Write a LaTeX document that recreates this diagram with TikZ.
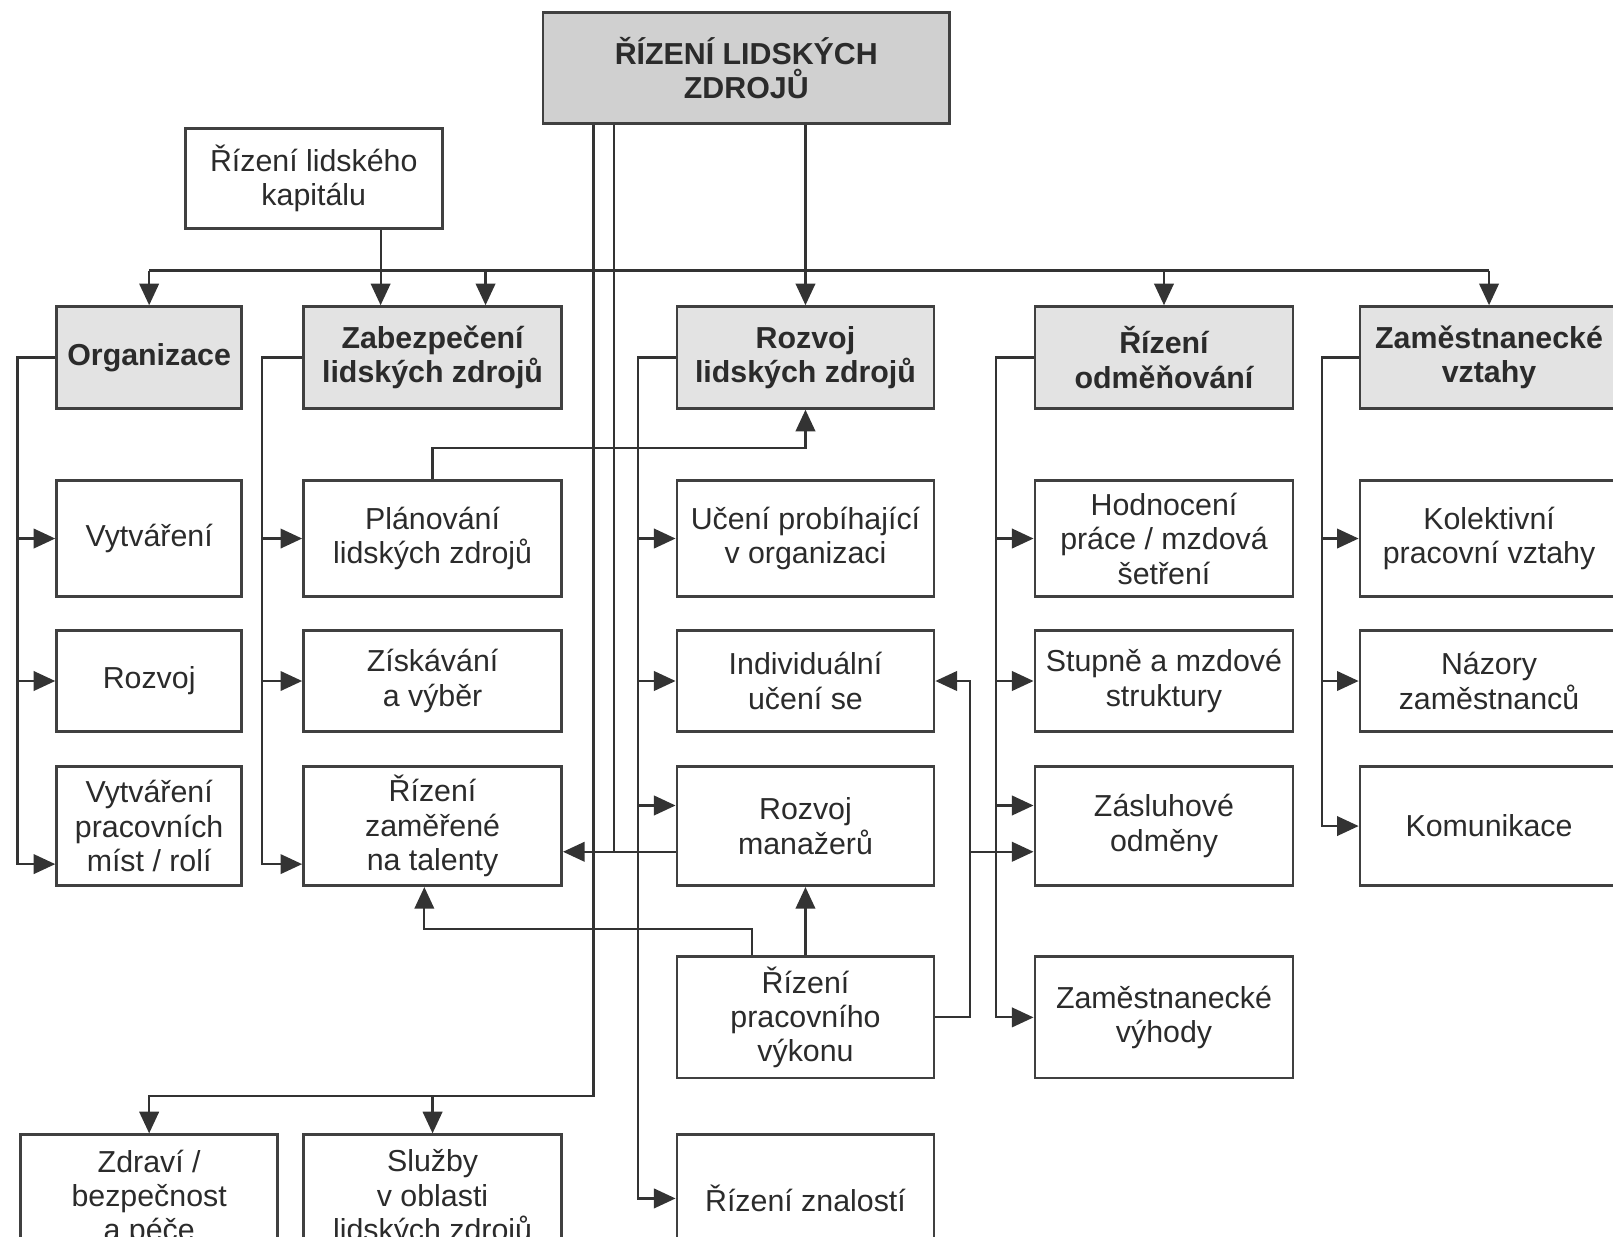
\documentclass[tikz,border=0pt]{standalone}
\usepackage{fontspec}
\setmainfont{Liberation Sans}
\usetikzlibrary{arrows.meta}
\definecolor{ln}{HTML}{333333}
\definecolor{bd}{HTML}{404040}
\definecolor{tx}{HTML}{2B2B2B}
\definecolor{hdr}{HTML}{E3E3E3}
\definecolor{topf}{HTML}{D0D0D0}
\begin{document}
\begin{tikzpicture}[x=1pt,y=-1pt,
  bx/.style={draw=bd,line width=2.6pt,fill=white,inner sep=0pt,align=center,text=tx,font=\fontsize{29.5}{33.5}\selectfont},
  hd/.style={bx,fill=hdr,font=\bfseries\fontsize{29.5}{33.5}\selectfont},
  cA/.style={minimum width=180pt},
  cB/.style={minimum width=251pt},
  cC/.style={minimum width=250pt},
  r1/.style={minimum height=99pt},
  r2/.style={minimum height=113pt},
  r3/.style={minimum height=98pt},
  r4/.style={minimum height=116pt},
  r5/.style={minimum height=118pt},
  r6/.style={minimum height=124pt},
  con/.style={draw=ln,line width=2.1pt},
  arr/.style={con,-{Triangle[length=21pt,width=19pt]}}]
\useasboundingbox (0,0) rectangle (1568,1202);
% top
\node[hd,minimum width=395pt,minimum height=108pt,fill=topf] (top) at (725.5,66) {ŘÍZENÍ LIDSKÝCH\\ZDROJŮ};
\node[bx,minimum width=250pt,minimum height=97pt] (kap) at (305,173.5) {Řízení lidského\\kapitálu};
% row 1
\node[hd,cA,r1] (org) at (145,347.5) {Organizace};
\node[hd,cB,r1] (zab) at (420.5,347.5) {Zabezpečení\\lidských zdrojů};
\node[hd,cC,r1] (roz) at (783,347.5) {Rozvoj\\lidských zdrojů};
\node[hd,cB,r1] (odm) at (1131.5,347.5) {Řízení\\odměňování};
\node[hd,cB,r1] (vzt) at (1447.5,347.5) {Zaměstnanecké\\vztahy};
% row 2
\node[bx,cA,r2] (vyt) at (145,523.5) {Vytváření};
\node[bx,cB,r2] (pla) at (420.5,523.5) {Plánování\\lidských zdrojů};
\node[bx,cC,r2] (uce) at (783,523.5) {Učení probíhající\\v organizaci};
\node[bx,cB,r2] (hod) at (1131.5,523.5) {Hodnocení\\práce / mzdová\\šetření};
\node[bx,cB,r2] (kol) at (1447.5,523.5) {Kolektivní\\pracovní vztahy};
% row 3
\node[bx,cA,r3] (rzv) at (145,662) {Rozvoj};
\node[bx,cB,r3] (zis) at (420.5,662) {Získávání\\a výběr};
\node[bx,cC,r3] (ind) at (783,662) {Individuální\\učení se};
\node[bx,cB,r3] (stu) at (1131.5,662) {Stupně a mzdové\\struktury};
\node[bx,cB,r3] (naz) at (1447.5,662) {Názory\\zaměstnanců};
% row 4
\node[bx,cA,r4] (mis) at (145,803) {Vytváření\\pracovních\\míst / rolí};
\node[bx,cB,r4] (tal) at (420.5,803) {Řízení\\zaměřené\\na talenty};
\node[bx,cC,r4] (man) at (783,803) {Rozvoj\\manažerů};
\node[bx,cB,r4] (zas) at (1131.5,803) {Zásluhové\\odměny};
\node[bx,cB,r4] (kom) at (1447.5,803) {Komunikace};
% row 5
\node[bx,cC,r5] (vyk) at (783,989) {Řízení\\pracovního\\výkonu};
\node[bx,cB,r5] (vyh) at (1131.5,989) {Zaměstnanecké\\výhody};
% row 6
\node[bx,cC,r6] (zdr) at (145,1165) {Zdraví /\\bezpečnost\\a péče};
\node[bx,cB,r6] (slu) at (420.5,1165) {Služby\\v oblasti\\lidských zdrojů};
\node[bx,cC,r6] (zna) at (783,1165) {Řízení znalostí};
% bus
\coordinate (bus) at (0,263);
\coordinate (zabR) at ([xshift=51.5pt]zab.north);
\coordinate (zabL) at ([xshift=-50.5pt]zab.north);
\draw[con] (org.north |- bus) -- (vzt.north |- bus);
\draw[arr] (org.north |- bus) -- (org.north);
\draw[arr] (zabR |- bus) -- (zabR);
\draw[arr] (zabL |- kap.south) -- (zabL);
\draw[arr] (top.south -| roz.north) -- (roz.north);
\draw[arr] (odm.north |- bus) -- (odm.north);
\draw[arr] (vzt.north |- bus) -- (vzt.north);
% lines from top box
\coordinate (ta) at (577,1065);
\coordinate (tb) at (597,0);
\coordinate (manB) at ([yshift=-25pt]man.west);
\coordinate (talB) at ([yshift=-25pt]tal.east);
\draw[arr] (top.south -| ta) -- (ta) -| (zdr.north);
\draw[arr] (slu.north |- ta) -- (slu.north);
\draw[con] (top.south -| tb) -- (tb |- talB);
\draw[arr] (manB) -- (talB);
% branches
\coordinate (b1) at (17,0);
\coordinate (b2) at (255,0);
\coordinate (b3) at (620,0);
\coordinate (b4) at (968,0);
\coordinate (b5) at (1285,0);
\coordinate (mis1) at ([yshift=-37pt]mis.west);
\coordinate (tal1) at ([yshift=-37pt]tal.west);
\coordinate (manA) at ([yshift=20pt]man.west);
\coordinate (zasA) at ([yshift=20pt]zas.west);
\draw[arr] (org.west) -| (b1 |- mis1) -- (mis1);
\draw[arr] (b1 |- vyt.west) -- (vyt.west);
\draw[arr] (b1 |- rzv.west) -- (rzv.west);
\draw[arr] (zab.west) -| (b2 |- tal1) -- (tal1);
\draw[arr] (b2 |- pla.west) -- (pla.west);
\draw[arr] (b2 |- zis.west) -- (zis.west);
\draw[arr] (roz.west) -| (b3 |- zna.west) -- (zna.west);
\draw[arr] (b3 |- uce.west) -- (uce.west);
\draw[arr] (b3 |- ind.west) -- (ind.west);
\draw[arr] (b3 |- manA) -- (manA);
\draw[arr] (odm.west) -| (b4 |- vyh.west) -- (vyh.west);
\draw[arr] (b4 |- hod.west) -- (hod.west);
\draw[arr] (b4 |- stu.west) -- (stu.west);
\draw[arr] (b4 |- zasA) -- (zasA);
\draw[arr] (vzt.west) -| (b5 |- kom.west) -- (kom.west);
\draw[arr] (b5 |- kol.west) -- (kol.west);
\draw[arr] (b5 |- naz.west) -- (naz.west);
% extra links
\draw[arr] (pla.north) -- ++(0,-30) -| (roz.south);
\draw[arr] (vyk.north) -- (man.south);
\coordinate (vykL) at ([xshift=-52pt]vyk.north);
\coordinate (talS) at ([xshift=-8pt]tal.south);
\draw[arr] (vykL) -- ++(0,-26) -| (talS);
\coordinate (px) at (943,0);
\coordinate (zasB) at ([yshift=-25pt]zas.west);
\draw[arr] (vyk.east) -| (px |- ind.east) -- (ind.east);
\draw[arr] (px |- zasB) -- (zasB);
\end{tikzpicture}
\end{document}
